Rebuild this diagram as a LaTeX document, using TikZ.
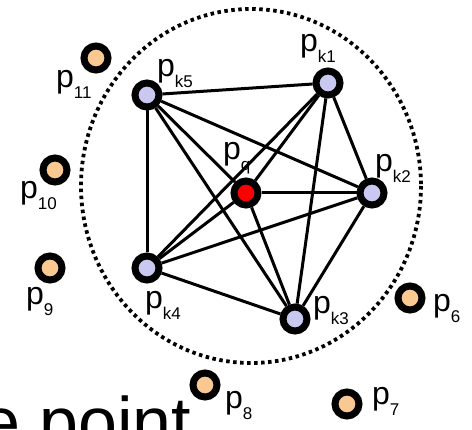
\documentclass[tikz,border=0pt]{standalone}
\usepackage{fontspec}
\setmainfont{Liberation Sans}
\usetikzlibrary{positioning}

\definecolor{lavender}{RGB}{200,200,240}
\definecolor{peach}{RGB}{250,200,145}
\newcommand{\plab}[1]{p\raisebox{-11pt}{\fontsize{17}{17}\selectfont #1}}

\begin{document}
\begin{tikzpicture}[
    x=1pt, y=-1pt,
    ptbase/.style={circle, draw, line width=7pt, minimum size=24pt, inner sep=0pt},
    knn/.style={ptbase, fill=lavender},
    query/.style={ptbase, fill=red},
    far/.style={ptbase, fill=peach},
    lab/.style={anchor=base west, inner sep=0pt, font=\fontsize{32}{32}\selectfont},
    link/.style={line width=3pt},
    searchring/.style={line width=3.8pt, dash pattern=on 3.5pt off 3.5pt}
]
\clip (0,0) rectangle (472,430);

% --------------------------------------------------------------------------
% Search radius
% --------------------------------------------------------------------------
\draw[searchring] (251,186) ellipse [x radius=170, y radius=177];

% --------------------------------------------------------------------------
% Query point and its neighbours
% --------------------------------------------------------------------------
\node[query] (q) at (246,193) {};
\node[knn] (k1) at (328,83) {};
\node[knn] (k2) at (372,193) {};
\node[knn] (k3) at (295,319) {};
\node[knn] (k4) at (147,268) {};
\node[knn] (k5) at (147,95) {};

\foreach \a/\b in {q/k1, q/k2, q/k3, q/k4, q/k5,
                   k1/k2, k1/k3, k1/k4, k1/k5,
                   k2/k3, k2/k4, k2/k5,
                   k3/k4, k3/k5, k4/k5}
    \draw[link] (\a) -- (\b);

% Other points
\node[far] (p6) at (410,298) {};
\node[far] (p7) at (347,404) {};
\node[far] (p8) at (205,385) {};
\node[far] (p9) at (50,268) {};
\node[far] (p10) at (55,170) {};
\node[far] (p11) at (96,58) {};

% --------------------------------------------------------------------------
% Labels
% --------------------------------------------------------------------------
\node[lab] (lq) at (223,160) {\plab{q}};
\node[lab] (lk1) at (300,52) {\plab{k1}};
\node[lab] (lk2) at (375,172) {\plab{k2}};
\node[lab] (lk3) at (313,314) {\plab{k3}};
\node[lab] (lk4) at (145,309) {\plab{k4}};
\node[lab] (lk5) at (157,77) {\plab{k5}};
\node[lab] (l6) at (433,312) {\plab{6}};
\node[lab] (l7) at (372,405) {\plab{7}};
\node[lab] (l8) at (225,409) {\plab{8}};
\node[lab] (l9) at (26,305) {\plab{9}};
\node[lab] (l10) at (20,199) {\plab{10}};
\node[lab] (l11) at (56,88) {\plab{11}};

\node[anchor=base west, inner sep=0pt, font=\fontsize{70}{70}\selectfont] (cap) at (-19,447) {e point};
\end{tikzpicture}
\end{document}
